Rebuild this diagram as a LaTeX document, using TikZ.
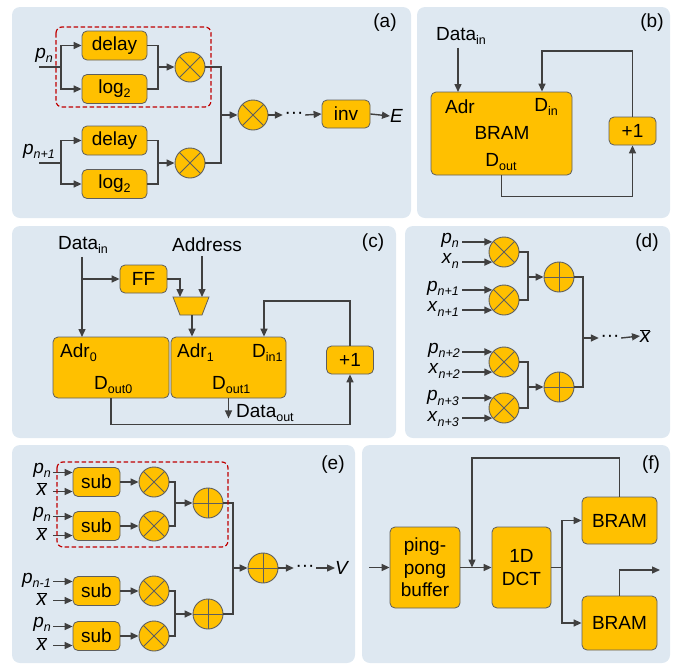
\documentclass[tikz,border=0pt]{standalone}
\usepackage{fontspec}
\setmainfont{Liberation Sans}
\usetikzlibrary{arrows.meta,calc}
\definecolor{panelbg}{HTML}{DEE8F1}
\definecolor{boxc}{HTML}{FFC000}
\definecolor{linec}{HTML}{404040}
\definecolor{bordc}{HTML}{5E5E5E}
\definecolor{redc}{HTML}{C00000}
\newcommand{\sbs}[1]{\raisebox{-0.22em}{\fontsize{12.5}{12.5}\selectfont #1}}
\newcommand{\isb}[1]{\sbs{\itshape #1}}
\newcommand{\xbar}{{\fontsize{20.5}{22}\selectfont$\overline{\hbox{\itshape x}}$}}
\newcommand{\pp}[1]{\textit{p}\isb{#1}}
\newcommand{\xx}[1]{\textit{x}\isb{#1}}
\tikzset{
  panel/.style={fill=panelbg, rounded corners=8pt},
  blk/.style={draw=bordc, fill=boxc, rounded corners=5pt, line width=0.8pt, inner sep=0pt, align=center},
  mul/.style={circle, draw=bordc, fill=boxc, line width=0.9pt, minimum size=30pt, inner sep=0pt,
    path picture={\draw[bordc, line width=0.9pt] (path picture bounding box.north west) -- (path picture bounding box.south east)
      (path picture bounding box.north east) -- (path picture bounding box.south west);}},
  add/.style={circle, draw=bordc, fill=boxc, line width=0.9pt, minimum size=30pt, inner sep=0pt,
    path picture={\draw[bordc, line width=0.9pt] (path picture bounding box.north) -- (path picture bounding box.south)
      (path picture bounding box.east) -- (path picture bounding box.west);}},
  arr/.style={draw=linec, line width=1.4pt, -{Triangle[length=8pt,width=7pt]}},
  ln/.style={draw=linec, line width=1.4pt},
  lbl/.style={inner sep=0pt, text=black},
  dotsn/.style={inner sep=1.5pt, text=black},
  redbox/.style={draw=redc, line width=1.2pt, rounded corners=6pt, dash pattern=on 4.5pt off 2.5pt},
}
\begin{document}
\begin{tikzpicture}[x=1pt, y=-1pt, font=\fontsize{19}{22}\selectfont]
\useasboundingbox (0,0) rectangle (678,665);
% ---------- panels
\fill[panel] (12,7) rectangle (411,218);
\fill[panel] (417,7) rectangle (670,218);
\fill[panel] (12,226) rectangle (396,438);
\fill[panel] (405,226) rectangle (670,438);
\fill[panel] (12,445) rectangle (355,663);
\fill[panel] (362,445) rectangle (670,663);

% ---------- (a)
\node[lbl] (la) at (385,23) {(a)};
\node[blk, minimum width=65pt, minimum height=29pt] (d1) at (114.5,45.5) {delay};
\node[blk, minimum width=65pt, minimum height=29pt] (l1) at (114.5,89) {log\sbs{2}};
\node[mul] (m1) at (190,67) {};
\node[blk, minimum width=65pt, minimum height=29pt] (d2) at (114.5,140.5) {delay};
\node[blk, minimum width=65pt, minimum height=29pt] (l2) at (114.5,184) {log\sbs{2}};
\node[mul] (m2) at (190,163) {};
\node[mul] (m3) at (253,115) {};
\node[dotsn] (dta) at (294,115) {···};
\node[blk, minimum width=48pt, minimum height=28pt] (inv) at (346,114) {inv};
\node[lbl, anchor=west] (E) at (390,116) {\textit{E}};
\node[lbl, anchor=east] (pna) at (53,55) {\pp{n}};
\node[lbl, anchor=east] (pn1a) at (55,151) {\pp{n+1}};
\coordinate (ia1) at (39,67);
\coordinate (ba1) at (61,67);
\coordinate (ia2) at (39,163);
\coordinate (ba2) at (61,163);
\coordinate (ja1) at (158,67);
\coordinate (ja2) at (158,163);
\coordinate (ja3) at (221,115);
\draw[ln] (ia1) -- (ba1);
\draw[arr] (ba1) |- (d1.west);
\draw[arr] (ba1) |- (l1.west);
\draw[ln] (ia2) -- (ba2);
\draw[arr] (ba2) |- (d2.west);
\draw[arr] (ba2) |- (l2.west);
\draw[ln] (d1.east) -| (ja1);
\draw[ln] (l1.east) -| (ja1);
\draw[arr] (ja1) -- (m1.west);
\draw[ln] (d2.east) -| (ja2);
\draw[ln] (l2.east) -| (ja2);
\draw[arr] (ja2) -- (m2.west);
\draw[ln] (m1.east) -| (ja3);
\draw[ln] (m2.east) -| (ja3);
\draw[arr] (ja3) -- (m3.west);
\draw[arr] (m3.east) -- (dta.west);
\draw[arr] (dta.east) -- (inv.west);
\draw[arr] (inv.east) -- (E.west);
\draw[redbox] (56,27) rectangle (211,107);

% ---------- (b)
\node[lbl] (lb) at (652,23) {(b)};
\node[blk, minimum width=141pt, minimum height=83pt] (bram) at (501.5,133.5) {};
\node[lbl] (adrb) at (460,107) {Adr};
\node[lbl] (dinb) at (546,107) {D\sbs{in}};
\node[lbl] (bramt) at (502,133) {BRAM};
\node[lbl] (doutb) at (501,162) {D\sbs{out}};
\node[lbl] (datab) at (461,36) {Data\sbs{in}};
\node[blk, minimum width=47pt, minimum height=28pt] (p1b) at (632.5,131) {+1};
\coordinate (ab) at (458,92);
\coordinate (fbb) at (542,51);
\draw[arr] (ab |- datab.south) ++(0,3) -- (ab);
\draw[arr] (p1b.north) |- (fbb) -- (fbb |- bram.north);
\draw[arr] (bram.south) -- ++(0,21) -| (p1b.south);

% ---------- (c)
\node[lbl] (lc) at (373,243) {(c)};
\node[lbl] (datac) at (83,245) {Data\sbs{in}};
\node[lbl] (addr) at (207,245) {Address};
\node[blk, minimum width=47pt, minimum height=28pt] (ff) at (143.5,279) {FF};
\node[blk, minimum width=116pt, minimum height=61pt] (r0) at (111,367.5) {};
\node[blk, minimum width=115pt, minimum height=61pt] (r1) at (228.5,367.5) {};
\node[lbl, anchor=west] (adr0) at (60,353) {Adr\sbs{0}};
\node[lbl, anchor=west] (dout0) at (94,385) {D\sbs{out0}};
\node[lbl, anchor=west] (adr1) at (177,353) {Adr\sbs{1}};
\node[lbl, anchor=west] (din1) at (252,353) {D\sbs{in1}};
\node[lbl, anchor=west] (dout1) at (212,385) {D\sbs{out1}};
\node[blk, minimum width=47pt, minimum height=28pt] (p1c) at (350,360) {+1};
\draw[draw=bordc, fill=boxc, line width=0.8pt] (173,297) -- (209,297) -- (202,315) -- (180,315) -- cycle;
\coordinate (mxa) at (180,297);
\coordinate (mxb) at (202,297);
\coordinate (mxo) at (192,315);
\coordinate (dc) at (82,337);
\coordinate (dcb) at (82,279);
\coordinate (fbc) at (264,301);
\draw[arr] (dc |- datac.south) ++(0,3) -- (dc);
\draw[arr] (dcb) -- (ff.west);
\draw[arr] (ff.east) -| (mxa);
\draw[arr] (mxb |- addr.south) ++(0,4) -- (mxb);
\draw[arr] (mxo) -- (mxo |- r1.north);
\draw[arr] (p1c.north) |- (fbc) -- (fbc |- r1.north);
\draw[arr] (r0.south) -- ++(0,26) -| (p1c.south);
\draw[arr] (r1.south) -- ++(0,20);
\node[lbl, anchor=west] (dataout) at (236,413) {Data\sbs{out}};

% ---------- (d)
\node[lbl] (ld) at (647,243) {(d)};
\node[mul] (dm1) at (504,252) {};
\node[mul] (dm2) at (504,300) {};
\node[mul] (dm3) at (504,362) {};
\node[mul] (dm4) at (504,408) {};
\node[add] (da1) at (559,277) {};
\node[add] (da2) at (559,387) {};
\coordinate (dL) at (462,0);
\node[lbl, anchor=east] (dp0) at (459,240) {\pp{n}};
\node[lbl, anchor=east] (dx0) at (459,261) {\xx{n}};
\node[lbl, anchor=east] (dp1) at (459,288) {\pp{n+1}};
\node[lbl, anchor=east] (dx1) at (459,309) {\xx{n+1}};
\node[lbl, anchor=east] (dp2) at (460,350) {\pp{n+2}};
\node[lbl, anchor=east] (dx2) at (460,371) {\xx{n+2}};
\node[lbl, anchor=east] (dp3) at (459,398) {\pp{n+3}};
\node[lbl, anchor=east] (dx3) at (459,419) {\xx{n+3}};
\foreach \m in {dm1,dm2,dm3,dm4}{
  \draw[arr] (\m.139 -| dL) -- (\m.139);
  \draw[arr] (\m.221 -| dL) -- (\m.221);
}
\coordinate (dj1) at (528,277);
\coordinate (dj2) at (528,387);
\coordinate (dj3) at (583,338);
\draw[ln] (dm1.east) -| (dj1);
\draw[ln] (dm2.east) -| (dj1);
\draw[arr] (dj1) -- (da1.west);
\draw[ln] (dm3.east) -| (dj2);
\draw[ln] (dm4.east) -| (dj2);
\draw[arr] (dj2) -- (da2.west);
\draw[ln] (da1.east) -| (dj3);
\draw[ln] (da2.east) -| (dj3);
\node[dotsn] (dtd) at (610,338) {···};
\node[lbl, anchor=west] (xbd) at (640,336) {\xbar};
\draw[arr] (dj3) -- (dtd.west);
\draw[arr] (dtd.east) -- (xbd.west);

% ---------- (e)
\node[lbl] (le) at (333,465) {(e)};
\node[blk, minimum width=47pt, minimum height=29pt] (s1) at (96.5,482) {sub};
\node[blk, minimum width=47pt, minimum height=29pt] (s2) at (96.5,526) {sub};
\node[blk, minimum width=47pt, minimum height=29pt] (s3) at (96.5,591) {sub};
\node[blk, minimum width=47pt, minimum height=29pt] (s4) at (96.5,636) {sub};
\node[mul] (em1) at (154,482) {};
\node[mul] (em2) at (154,526) {};
\node[mul] (em3) at (154,591) {};
\node[mul] (em4) at (154,636) {};
\node[add] (ea1) at (208,503) {};
\node[add] (ea2) at (208,614) {};
\node[add] (ea3) at (263,568) {};
\node[lbl, anchor=east] (ep1) at (51,470) {\pp{n}};
\node[lbl, anchor=east] (ex1) at (47,489) {\xbar};
\node[lbl, anchor=east] (ep2) at (51,514) {\pp{n}};
\node[lbl, anchor=east] (ex2) at (47,534) {\xbar};
\node[lbl, anchor=east] (ep3) at (51,580) {\pp{n-1}};
\node[lbl, anchor=east] (ex3) at (47,599) {\xbar};
\node[lbl, anchor=east] (ep4) at (51,624) {\pp{n}};
\node[lbl, anchor=east] (ex4) at (47,644) {\xbar};
\coordinate (eL) at (53,0);
\foreach \s in {s1,s2,s3,s4}{
  \coordinate (\s i1) at ($(\s.west)+(0,-9.5)$);
  \coordinate (\s i2) at ($(\s.west)+(0,9.5)$);
  \draw[arr] (\s i1 -| eL) -- (\s i1);
  \draw[arr] (\s i2 -| eL) -- (\s i2);
}
\draw[arr] (s1.east) -- (em1.west);
\draw[arr] (s2.east) -- (em2.west);
\draw[arr] (s3.east) -- (em3.west);
\draw[arr] (s4.east) -- (em4.west);
\coordinate (ej1) at (175,503);
\coordinate (ej2) at (175,614);
\coordinate (ej3) at (233,568);
\draw[ln] (em1.east) -| (ej1);
\draw[ln] (em2.east) -| (ej1);
\draw[arr] (ej1) -- (ea1.west);
\draw[ln] (em3.east) -| (ej2);
\draw[ln] (em4.east) -| (ej2);
\draw[arr] (ej2) -- (ea2.west);
\draw[ln] (ea1.east) -| (ej3);
\draw[ln] (ea2.east) -| (ej3);
\draw[arr] (ej3) -- (ea3.west);
\node[dotsn] (dte) at (305,568) {···};
\node[lbl, anchor=west] (V) at (335,568) {\textit{V}};
\draw[arr] (ea3.east) -- (dte.west);
\draw[arr] (dte.east) -- (V.west);
\draw[redbox] (57,462) rectangle (228,547);

% ---------- (f)
\node[lbl] (lf) at (651,465) {(f)};
\node[blk, minimum width=70pt, minimum height=81pt, font=\fontsize{19}{22.5}\selectfont] (ppb) at (425,567.5) {ping-\\pong\\buffer};
\node[blk, minimum width=59pt, minimum height=81pt, font=\fontsize{19}{23}\selectfont] (dct) at (521.5,567.5) {1D\\DCT};
\node[blk, minimum width=75pt, minimum height=47pt] (br1) at (619.5,520.5) {BRAM};
\node[blk, minimum width=75pt, minimum height=54pt] (br2) at (619.5,623) {BRAM};
\coordinate (fin) at (369,567.5);
\coordinate (fbf) at (472,458);
\coordinate (fj) at (562,567.5);
\coordinate (fo) at (660,570);
\draw[arr] (fin) -- (ppb.west);
\draw[arr] (ppb.east) -- (dct.west);
\draw[arr] (br1.north) |- (fbf) -- (fbf |- ppb.east);
\draw[ln] (dct.east) -- (fj);
\draw[arr] (fj) |- (br1.west);
\draw[arr] (fj) |- (br2.west);
\draw[arr] (br2.north) |- (fo);
\end{tikzpicture}
\end{document}
